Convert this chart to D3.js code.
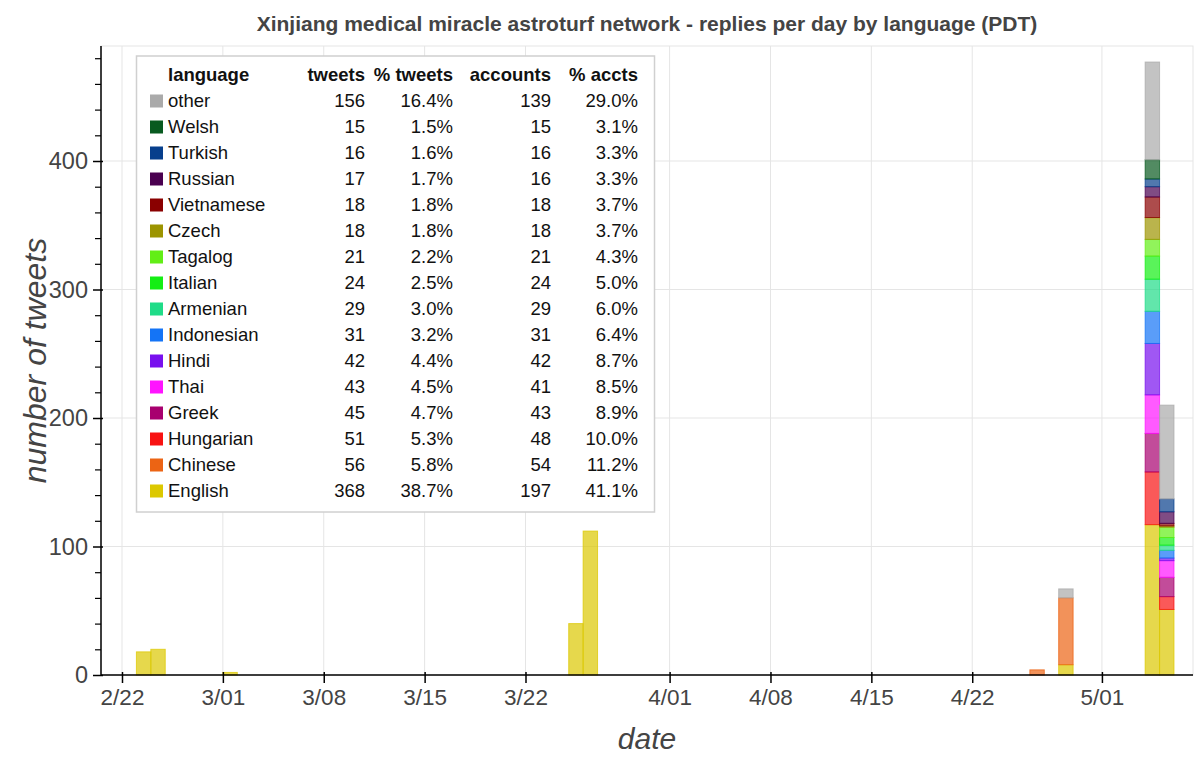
<!DOCTYPE html>
<html>
<head>
<meta charset="utf-8">
<script src="https://cdn.jsdelivr.net/npm/d3@7"></script>
<style>
  html, body { margin: 0; padding: 0; background: #fff; }
  svg text { font-family: "Liberation Sans", Arial, Helvetica, sans-serif; }
</style>
</head>
<body>
<svg id="chart" width="1200" height="761"></svg>
<script>
// ---- data ----
const title = "Xinjiang medical miracle astroturf network - replies per day by language (PDT)";
const dates = ["2021-02-23","2021-02-24","2021-03-01","2021-03-25","2021-03-26","2021-04-26","2021-04-28","2021-05-04","2021-05-05"];
// stack order bottom -> top
const languages = ["English","Chinese","Hungarian","Greek","Thai","Hindi","Indonesian","Armenian","Italian","Tagalog","Czech","Vietnamese","Russian","Turkish","Welsh","other"];
const colors    = ["#dcc800","#ec6414","#f81212","#a8006f","#ff14ff","#7810ee","#1474f6","#1fdc88","#14ee14","#62ee16","#9c9400","#8a0000","#4a0050","#073f8c","#085a20","#aaaaaa"];
const English    = [18,20,2,40,112,0,8,117,51];
const Chinese    = [0,0,0,0,0,4,52,0,0];
const Hungarian  = [0,0,0,0,0,0,0,41,10];
const Greek      = [0,0,0,0,0,0,0,30,15];
const Thai       = [0,0,0,0,0,0,0,30,13];
const Hindi      = [0,0,0,0,0,0,0,40,2];
const Indonesian = [0,0,0,0,0,0,0,25,6];
const Armenian   = [0,0,0,0,0,0,0,25,4];
const Italian    = [0,0,0,0,0,0,0,18,6];
const Tagalog    = [0,0,0,0,0,0,0,13,8];
const Czech      = [0,0,0,0,0,0,0,17,1];
const Vietnamese = [0,0,0,0,0,0,0,16,2];
const Russian    = [0,0,0,0,0,0,0,8,9];
const Turkish    = [0,0,0,0,0,0,0,6,10];
const Welsh      = [0,0,0,0,0,0,0,15,0];
const other      = [0,0,0,0,0,0,7,76,73];
const seriesValues = [English,Chinese,Hungarian,Greek,Thai,Hindi,Indonesian,Armenian,Italian,Tagalog,Czech,Vietnamese,Russian,Turkish,Welsh,other];

// legend table (listed top -> bottom)
const tableLanguages = ["other","Welsh","Turkish","Russian","Vietnamese","Czech","Tagalog","Italian","Armenian","Indonesian","Hindi","Thai","Greek","Hungarian","Chinese","English"];
const tableTweets    = ["156","15","16","17","18","18","21","24","29","31","42","43","45","51","56","368"];
const tablePctTweets = ["16.4%","1.5%","1.6%","1.7%","1.8%","1.8%","2.2%","2.5%","3.0%","3.2%","4.4%","4.5%","4.7%","5.3%","5.8%","38.7%"];
const tableAccounts  = ["139","15","16","16","18","18","21","24","29","31","42","41","43","48","54","197"];
const tablePctAccts  = ["29.0%","3.1%","3.3%","3.3%","3.7%","3.7%","4.3%","5.0%","6.0%","6.4%","8.7%","8.5%","8.9%","10.0%","11.2%","41.1%"];
const tableHeaders   = ["language","tweets","% tweets","accounts","% accts"];

const xTickDates  = ["2021-02-22","2021-03-01","2021-03-08","2021-03-15","2021-03-22","2021-04-01","2021-04-08","2021-04-15","2021-04-22","2021-05-01"];
const xTickLabels = ["2/22","3/01","3/08","3/15","3/22","4/01","4/08","4/15","4/22","5/01"];
const yTicks = [0,100,200,300,400];
const yMinorTicks = [20,40,60,80,120,140,160,180,220,240,260,280,320,340,360,380,420,440,460,480];

// ---- layout ----
const svg = d3.select("#chart");
const L = 101, R = 1193, T = 46, B = 675;
const DAY = 86400000;
const parse = s => new Date(s + "T00:00:00Z");
const origin = parse("2021-02-22").getTime();

const x = d3.scaleUtc()
  .domain([new Date(origin - 1.457 * DAY), new Date(origin + 74.32 * DAY)])
  .range([L, R]);
const y = d3.scaleLinear().domain([0, 489.5]).range([B, T]);

// frame
svg.append("rect").attr("x", L).attr("y", T).attr("width", R - L).attr("height", B - T)
  .attr("fill", "none").attr("stroke", "#e5e5e5").attr("stroke-width", 1);

// grid
svg.append("g").selectAll("line").data(yTicks.filter(d => d > 0)).join("line")
  .attr("x1", L).attr("x2", R).attr("y1", d => y(d)).attr("y2", d => y(d))
  .attr("stroke", "#e5e5e5").attr("stroke-width", 1);
svg.append("g").selectAll("line").data(xTickDates).join("line")
  .attr("x1", d => x(parse(d))).attr("x2", d => x(parse(d)))
  .attr("y1", T).attr("y2", B)
  .attr("stroke", "#e5e5e5").attr("stroke-width", 1);

// stacked bars
const rows = dates.map((d, i) => {
  const r = { date: parse(d) };
  languages.forEach((lang, k) => r[lang] = seriesValues[k][i]);
  return r;
});
const stack = d3.stack().keys(languages)(rows);
const gBars = svg.append("g");
stack.forEach((layer, k) => {
  gBars.append("g")
    .attr("fill", colors[k]).attr("fill-opacity", 0.7)
    .attr("stroke", colors[k]).attr("stroke-opacity", 0.75).attr("stroke-width", 1)
    .selectAll("rect")
    .data(layer.filter(s => s[1] - s[0] > 0))
    .join("rect")
    .attr("x", s => x(s.data.date))
    .attr("width", s => x(new Date(s.data.date.getTime() + DAY)) - x(s.data.date))
    .attr("y", s => y(s[1]))
    .attr("height", s => y(s[0]) - y(s[1]));
});

// axes
const textColor = "#444";
const xAxis = svg.append("g").attr("transform", `translate(0,${B})`)
  .call(d3.axisBottom(x).tickValues(xTickDates.map(parse))
    .tickFormat((d, i) => xTickLabels[i]).tickSizeInner(8).tickSizeOuter(0).tickPadding(5));
xAxis.select(".domain").attr("stroke", "#000").attr("stroke-width", 1.5).attr("d", `M${L},0H${R}`);
xAxis.selectAll(".tick line").attr("stroke", "#000").attr("stroke-width", 1.5).attr("y1", -3);
xAxis.selectAll(".tick text").attr("fill", textColor).attr("font-size", 22.5).attr("dy", "0.76em");

const yAxis = svg.append("g").attr("transform", `translate(${L},0)`)
  .call(d3.axisLeft(y).tickValues(yTicks).tickSizeInner(8).tickSizeOuter(0).tickPadding(5));
yAxis.select(".domain").attr("stroke", "#000").attr("stroke-width", 1.5).attr("d", `M0,${T}V${B}`);
yAxis.selectAll(".tick line").attr("stroke", "#000").attr("stroke-width", 1.5).attr("x1", 2);
yAxis.selectAll(".tick text").attr("fill", textColor).attr("font-size", 23.5);
const yMinor = svg.append("g").attr("transform", `translate(${L},0)`)
  .call(d3.axisLeft(y).tickValues(yMinorTicks).tickSize(6).tickFormat(""));
yMinor.select(".domain").remove();
yMinor.selectAll(".tick line").attr("stroke", "#000").attr("stroke-width", 1.2);

// title and axis labels
svg.append("text").attr("x", 647).attr("y", 31).attr("text-anchor", "middle")
  .attr("font-size", 21).attr("font-weight", "bold").attr("fill", textColor).text(title);
svg.append("text").attr("x", 647).attr("y", 749).attr("text-anchor", "middle")
  .attr("font-size", 30).attr("font-style", "italic").attr("fill", textColor).text("date");
svg.append("text").attr("transform", `translate(46,${(T + B) / 2}) rotate(-90)`).attr("text-anchor", "middle")
  .attr("font-size", 32).attr("font-style", "italic").attr("fill", textColor).text("number of tweets");

// legend table
const lg = svg.append("g");
lg.append("rect").attr("x", 136.5).attr("y", 56).attr("width", 518).attr("height", 456)
  .attr("fill", "#fff").attr("stroke", "#d0d0d0").attr("stroke-width", 1.5);
const colX = [168, 365, 453, 551, 638];
const rowY0 = 75, rowDY = 26;
const fs = 18.5;
tableHeaders.forEach((h, j) => {
  lg.append("text").attr("x", colX[j]).attr("y", rowY0).attr("dy", "0.35em")
    .attr("text-anchor", j === 0 ? "start" : "end").attr("font-weight", "bold")
    .attr("font-size", fs).attr("fill", "#111").text(h);
});
const colorOf = lang => colors[languages.indexOf(lang)];
tableLanguages.forEach((lang, i) => {
  const cy = rowY0 + rowDY * (i + 1);
  lg.append("rect").attr("x", 150).attr("y", cy - 6.5).attr("width", 13).attr("height", 13)
    .attr("fill", colorOf(lang));
  const vals = [lang, tableTweets[i], tablePctTweets[i], tableAccounts[i], tablePctAccts[i]];
  vals.forEach((v, j) => {
    lg.append("text").attr("x", colX[j]).attr("y", cy).attr("dy", "0.35em")
      .attr("text-anchor", j === 0 ? "start" : "end")
      .attr("font-size", fs).attr("fill", "#111").text(v);
  });
});
</script>
</body>
</html>
